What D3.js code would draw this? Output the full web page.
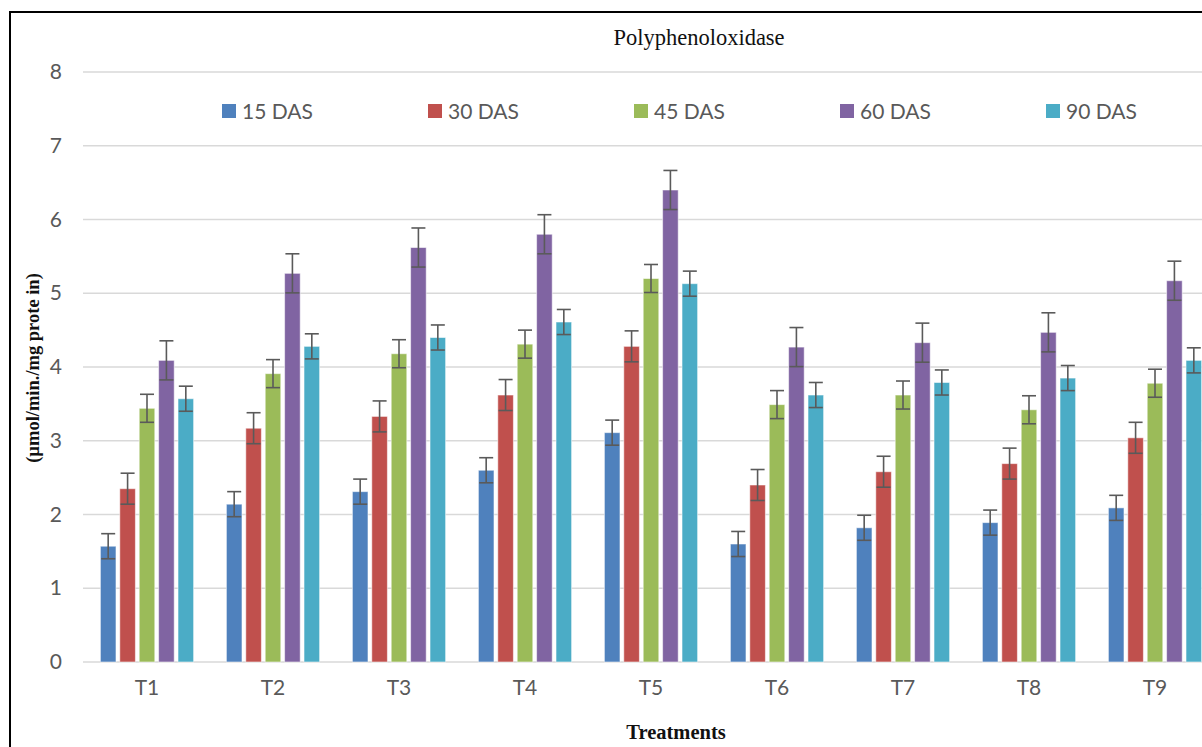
<!DOCTYPE html>
<html>
<head>
<meta charset="utf-8">
<script src="https://cdn.jsdelivr.net/npm/d3@7"></script>
<style>
  html, body { margin: 0; padding: 0; background: #fff; }
  svg { display: block; }
</style>
</head>
<body>
<svg id="chart" width="1202" height="747"></svg>
<script>
// Treatments on the x axis
const treatments = ["T1", "T2", "T3", "T4", "T5", "T6", "T7", "T8", "T9"];
// Sampling stages (days after sowing)
const stages = ["15 DAS", "30 DAS", "45 DAS", "60 DAS", "90 DAS"];
const stageColors = ["#4F81BD", "#C0504D", "#9BBB59", "#8064A2", "#4BACC6"];

// Polyphenoloxidase activity per stage, one value per treatment
const das15 = [1.57, 2.14, 2.31, 2.60, 3.11, 1.60, 1.82, 1.89, 2.09];
const das30 = [2.35, 3.17, 3.33, 3.62, 4.28, 2.40, 2.58, 2.69, 3.04];
const das45 = [3.44, 3.91, 4.18, 4.31, 5.20, 3.49, 3.62, 3.42, 3.78];
const das60 = [4.09, 5.27, 5.62, 5.80, 6.40, 4.27, 4.33, 4.47, 5.17];
const das90 = [3.57, 4.28, 4.40, 4.61, 5.13, 3.62, 3.79, 3.85, 4.09];
// Standard error of each stage
const stageErrors = [0.17, 0.21, 0.19, 0.265, 0.17];
const yTicks = [0, 1, 2, 3, 4, 5, 6, 7, 8];

const seriesValues = [das15, das30, das45, das60, das90];

const svg = d3.select("#chart");
const W = 1202, H = 747;

const x0 = d3.scaleBand()
  .domain(treatments)
  .range([84, 1218])
  .paddingInner(0.26)
  .paddingOuter(0.13);

const x1 = d3.scaleBand()
  .domain(stages)
  .range([0, x0.bandwidth()])
  .paddingInner(0.196)
  .paddingOuter(0);

const y = d3.scaleLinear().domain([0, 8]).range([662, 72]);

const tickFont = "Lato, 'Open Sans', sans-serif";
const tickColor = "#595959";

// gridlines
svg.append("g")
  .selectAll("line")
  .data(yTicks)
  .join("line")
  .attr("x1", 83).attr("x2", W)
  .attr("y1", d => y(d)).attr("y2", d => y(d))
  .attr("stroke", "#d9d9d9")
  .attr("stroke-width", 1.5);

// y axis labels
const yAxis = d3.axisLeft(y).tickValues(yTicks).tickSize(0).tickPadding(0).tickFormat(d3.format("d"));
const gy = svg.append("g").attr("transform", "translate(62,0)").call(yAxis);
gy.select(".domain").remove();
gy.selectAll("text")
  .attr("font-family", tickFont)
  .attr("font-size", 21)
  .attr("fill", tickColor);

// x axis labels
const xAxis = d3.axisBottom(x0).tickSize(0).tickPadding(0);
const gx = svg.append("g").attr("transform", "translate(0,680)").call(xAxis);
gx.select(".domain").remove();
gx.selectAll("text")
  .attr("font-family", tickFont)
  .attr("font-size", 21)
  .attr("fill", tickColor)
  .attr("dy", "0.71em");

// bars
const rows = [];
treatments.forEach((t, i) => {
  stages.forEach((s, j) => {
    rows.push({ t, s, j, v: seriesValues[j][i], e: stageErrors[j] });
  });
});

svg.append("g")
  .selectAll("rect")
  .data(rows)
  .join("rect")
  .attr("x", d => x0(d.t) + x1(d.s))
  .attr("y", d => y(d.v))
  .attr("width", x1.bandwidth())
  .attr("height", d => y(0) - y(d.v))
  .attr("fill", d => stageColors[d.j])
  .attr("stroke", "rgba(255,255,255,0.55)")
  .attr("stroke-width", 1);

// error bars
const eb = svg.append("g")
  .attr("stroke", "#5a5a5a")
  .attr("stroke-width", 1.6)
  .attr("fill", "none");
const capHalf = 7;
rows.forEach(d => {
  const cx = x0(d.t) + x1(d.s) + x1.bandwidth() / 2;
  const yt = y(d.v + d.e), yb = y(d.v - d.e);
  eb.append("line").attr("x1", cx).attr("x2", cx).attr("y1", yt).attr("y2", yb);
  eb.append("line").attr("x1", cx - capHalf).attr("x2", cx + capHalf).attr("y1", yt).attr("y2", yt);
  eb.append("line").attr("x1", cx - capHalf).attr("x2", cx + capHalf).attr("y1", yb).attr("y2", yb);
});

// legend
const lg = svg.append("g").selectAll("g")
  .data(stages)
  .join("g")
  .attr("transform", (d, i) => `translate(${222 + i * 206},104)`);
lg.append("rect")
  .attr("width", 14).attr("height", 14)
  .attr("fill", (d, i) => stageColors[i]);
lg.append("text")
  .attr("x", 20).attr("y", 15)
  .attr("font-family", tickFont)
  .attr("font-size", 21)
  .attr("fill", tickColor)
  .text(d => d);

// title
svg.append("text")
  .attr("x", 699).attr("y", 45)
  .attr("text-anchor", "middle")
  .attr("font-family", "'Liberation Serif', 'Times New Roman', serif")
  .attr("font-size", 22.5)
  .attr("fill", "#111")
  .text("Polyphenoloxidase");

// axis titles
svg.append("text")
  .attr("transform", "translate(39,368) rotate(-90)")
  .attr("text-anchor", "middle")
  .attr("font-family", "'Liberation Serif', 'Times New Roman', serif")
  .attr("font-weight", "bold")
  .attr("font-size", 18.5)
  .attr("fill", "#111")
  .text("(µmol/min./mg prote in)");

svg.append("text")
  .attr("x", 676).attr("y", 739)
  .attr("text-anchor", "middle")
  .attr("font-family", "'Liberation Serif', 'Times New Roman', serif")
  .attr("font-weight", "bold")
  .attr("font-size", 20.5)
  .attr("fill", "#111")
  .text("Treatments");

// frame: top and left edges
svg.append("path")
  .attr("d", `M10,${H} L10,12 L${W},12`)
  .attr("fill", "none")
  .attr("stroke", "#000")
  .attr("stroke-width", 2);
</script>
</body>
</html>
